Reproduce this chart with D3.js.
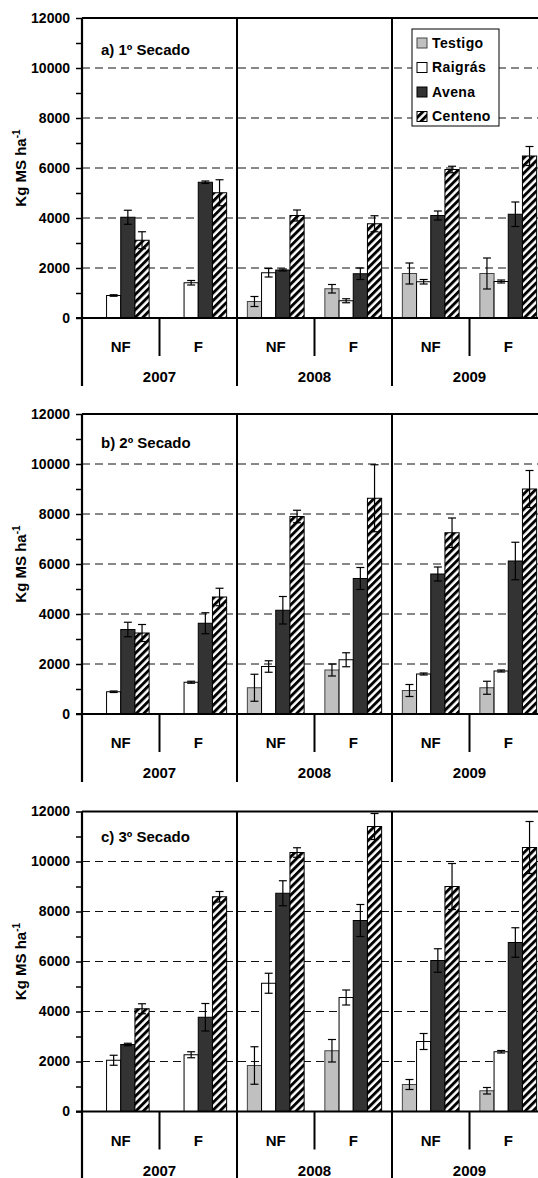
<!DOCTYPE html>
<html>
<head>
<meta charset="utf-8">
<script src="https://cdn.jsdelivr.net/npm/d3@7/dist/d3.min.js"></script>
<style>
  body { margin: 0; background: #fff; }
  text { font-family: "Liberation Sans", Arial, sans-serif; font-weight: bold; fill: #000; }
</style>
</head>
<body>
<div id="chart"></div>
<script>
// Chart data
var years = ["2007", "2008", "2009"];
var treatments = ["NF", "F"];
var series = ["Testigo", "Raigrás", "Avena", "Centeno"];
var panelTitles = ["a) 1º Secado", "b) 2º Secado", "c) 3º Secado"];
var yTicks = [0, 2000, 4000, 6000, 8000, 10000, 12000];
var yMinorTicks = [1000, 3000, 5000, 7000, 9000, 11000];
var gridValues = [2000, 4000, 6000, 8000, 10000];

// values ordered 2007 NF, 2007 F, 2008 NF, 2008 F, 2009 NF, 2009 F
var testigoA = [null, null, 660, 1170, 1780, 1780];
var raigrasA = [900, 1410, 1810, 690, 1450, 1460];
var avenaA = [4030, 5430, 1920, 1770, 4100, 4150];
var centenoA = [3110, 5010, 4100, 3770, 5940, 6480];
var testigoErrA = [null, null, 200, 170, 420, 620];
var raigrasErrA = [30, 90, 170, 80, 90, 60];
var avenaErrA = [280, 50, 40, 230, 180, 490];
var centenoErrA = [340, 520, 220, 320, 130, 380];

var testigoB = [null, null, 1050, 1760, 940, 1050];
var raigrasB = [890, 1270, 1900, 2170, 1600, 1720];
var avenaB = [3380, 3630, 4150, 5420, 5600, 6120];
var centenoB = [3240, 4680, 7900, 8630, 7250, 9000];
var testigoErrB = [null, null, 540, 240, 240, 260];
var raigrasErrB = [30, 40, 230, 280, 40, 40];
var avenaErrB = [290, 420, 550, 440, 280, 750];
var centenoErrB = [340, 350, 250, 1340, 590, 740];

var testigoC = [null, null, 1840, 2430, 1080, 830];
var raigrasC = [2050, 2270, 5130, 4560, 2800, 2390];
var avenaC = [2680, 3770, 8730, 7640, 6040, 6760];
var centenoC = [4110, 8590, 10360, 11400, 9000, 10560];
var testigoErrC = [null, null, 750, 450, 200, 130];
var raigrasErrC = [200, 120, 400, 300, 320, 50];
var avenaErrC = [50, 550, 500, 640, 470, 590];
var centenoErrC = [200, 210, 190, 520, 920, 1040];

var panels = [
  { title: panelTitles[0], values: [testigoA, raigrasA, avenaA, centenoA], errs: [testigoErrA, raigrasErrA, avenaErrA, centenoErrA] },
  { title: panelTitles[1], values: [testigoB, raigrasB, avenaB, centenoB], errs: [testigoErrB, raigrasErrB, avenaErrB, centenoErrB] },
  { title: panelTitles[2], values: [testigoC, raigrasC, avenaC, centenoC], errs: [testigoErrC, raigrasErrC, avenaErrC, centenoErrC] }
];

// Layout
var svgWidth = 538;
var svgHeight = 1178;
var plotLeft = 82;
var plotRight = 547;
var panelTops = [18, 414, 811.5];
var panelHeight = 300;
var titleOffsets = [37, 34, 30];

var fills = ["#c0c0c0", "#ffffff", "#333333", "url(#hatch)"];
var strokes = ["#444444", "#000000", "#000000", "#000000"];

var svg = d3.select("#chart")
  .append("svg")
  .attr("width", svgWidth)
  .attr("height", svgHeight);

// Hatch pattern for Centeno
var pattern = svg.append("defs").append("pattern")
  .attr("id", "hatch")
  .attr("patternUnits", "userSpaceOnUse")
  .attr("width", 5.4)
  .attr("height", 5.4)
  .attr("patternTransform", "rotate(45)");
pattern.append("rect").attr("width", 5.4).attr("height", 5.4).attr("fill", "#fff");
pattern.append("rect").attr("width", 2.9).attr("height", 5.4).attr("fill", "#000");

// Scales shared by all panels
var x0 = d3.scaleBand().domain(years).range([plotLeft, plotRight]);
var x1 = d3.scaleBand().domain(treatments).range([0, x0.bandwidth()]);
var x2 = d3.scaleBand().domain(series).range([0, x1.bandwidth()]).paddingOuter(0.73);

panels.forEach(function(panel, p) {
  var top = panelTops[p];
  var zero = top + panelHeight;
  var g = svg.append("g");

  var y = d3.scaleLinear().domain([0, 12000]).range([zero, top]);

  // Dashed grid lines
  g.selectAll(".grid")
    .data(gridValues)
    .enter()
    .append("line")
    .attr("x1", plotLeft)
    .attr("x2", plotRight)
    .attr("y1", d => y(d))
    .attr("y2", d => y(d))
    .attr("stroke", "#111")
    .attr("stroke-width", 1)
    .attr("stroke-dasharray", "8,5");

  // Top border
  g.append("line")
    .attr("x1", plotLeft).attr("x2", plotRight)
    .attr("y1", y(12000)).attr("y2", y(12000))
    .attr("stroke", "#000").attr("stroke-width", 2);

  // Bars
  var rows = [];
  series.forEach(function(s, si) {
    var k = 0;
    years.forEach(function(yr) {
      treatments.forEach(function(t) {
        var v = panel.values[si][k];
        if (v !== null) {
          rows.push({ s: s, si: si, year: yr, t: t, v: v, e: panel.errs[si][k] });
        }
        k++;
      });
    });
  });

  var bx = d => x0(d.year) + x1(d.t) + x2(d.s);

  g.selectAll(".bar")
    .data(rows)
    .enter()
    .append("rect")
    .attr("x", bx)
    .attr("y", d => y(d.v))
    .attr("width", x2.bandwidth())
    .attr("height", d => zero - y(d.v))
    .attr("fill", d => fills[d.si])
    .attr("stroke", d => strokes[d.si])
    .attr("stroke-width", 1);

  // Error bars
  var cx = d => bx(d) + x2.bandwidth() / 2;
  var eb = g.selectAll(".err")
    .data(rows)
    .enter()
    .append("g")
    .attr("stroke", "#000")
    .attr("stroke-width", 1.2);
  eb.append("line")
    .attr("x1", cx).attr("x2", cx)
    .attr("y1", d => y(d.v + d.e)).attr("y2", d => y(d.v - d.e));
  eb.append("line")
    .attr("x1", d => cx(d) - 4).attr("x2", d => cx(d) + 4)
    .attr("y1", d => y(d.v + d.e)).attr("y2", d => y(d.v + d.e));
  eb.append("line")
    .attr("x1", d => cx(d) - 4).attr("x2", d => cx(d) + 4)
    .attr("y1", d => y(d.v - d.e)).attr("y2", d => y(d.v - d.e));

  // Year dividers (from top down through the category labels)
  g.selectAll(".ydiv")
    .data(years.slice(1).concat(["end"]))
    .enter()
    .append("line")
    .attr("x1", (d, i) => plotLeft + (i + 1) * x0.step())
    .attr("x2", (d, i) => plotLeft + (i + 1) * x0.step())
    .attr("y1", top)
    .attr("y2", zero + 68)
    .attr("stroke", "#000")
    .attr("stroke-width", 2);

  // NF / F dividers
  g.selectAll(".tdiv")
    .data(years)
    .enter()
    .append("line")
    .attr("x1", d => x0(d) + x1("F"))
    .attr("x2", d => x0(d) + x1("F"))
    .attr("y1", zero)
    .attr("y2", zero + 38)
    .attr("stroke", "#000")
    .attr("stroke-width", 2);

  // Zero baseline and left axis line
  g.append("line")
    .attr("x1", plotLeft - 6).attr("x2", plotRight)
    .attr("y1", zero).attr("y2", zero)
    .attr("stroke", "#000").attr("stroke-width", 2.2);
  g.append("line")
    .attr("x1", plotLeft).attr("x2", plotLeft)
    .attr("y1", top).attr("y2", zero + 68)
    .attr("stroke", "#000").attr("stroke-width", 2.2);

  // Y axis ticks and labels
  var leftAxis = d3.axisLeft(y).tickValues(yTicks).tickSize(6).tickPadding(6).tickFormat(d3.format("d"));
  var axisG = g.append("g")
    .attr("transform", `translate(${plotLeft}, 0)`)
    .call(leftAxis);
  axisG.select(".domain").remove();
  axisG.selectAll("line").attr("stroke-width", 1.5);
  axisG.selectAll("text").style("font-size", "14px").style("font-family", null).attr("fill", "#000");

  var minorAxis = d3.axisLeft(y).tickValues(yMinorTicks).tickSize(6).tickFormat("");
  var minorG = g.append("g")
    .attr("transform", `translate(${plotLeft}, 0)`)
    .call(minorAxis);
  minorG.select(".domain").remove();
  minorG.selectAll("line").attr("stroke-width", 1.5);

  // Treatment and year labels
  years.forEach(function(yr) {
    treatments.forEach(function(t) {
      g.append("text")
        .attr("x", x0(yr) + x1(t) + x1.bandwidth() / 2)
        .attr("y", zero + 29)
        .attr("dy", "0.35em")
        .attr("text-anchor", "middle")
        .style("font-size", "15px")
        .text(t);
    });
    g.append("text")
      .attr("x", x0(yr) + x0.bandwidth() / 2)
      .attr("y", zero + 59)
      .attr("dy", "0.35em")
      .attr("text-anchor", "middle")
      .style("font-size", "15px")
      .text(yr);
  });

  // Y axis title
  var yt = g.append("text")
    .attr("transform", `translate(26, ${(top + zero) / 2}) rotate(-90)`)
    .attr("text-anchor", "middle")
    .style("font-size", "15px");
  yt.append("tspan").text("Kg MS ha");
  yt.append("tspan").attr("dy", "-6").style("font-size", "10px").text("-1");

  // Panel title
  g.append("text")
    .attr("x", 101)
    .attr("y", top + titleOffsets[p])
    .style("font-size", "15px")
    .text(panel.title);

  // Legend (first panel only)
  if (p === 0) {
    var lg = g.append("g").attr("transform", "translate(412, 29)");
    lg.append("rect")
      .attr("width", 87).attr("height", 97)
      .attr("fill", "#fff").attr("stroke", "#000").attr("stroke-width", 1);
    series.forEach(function(s, i) {
      var ly = 14 + i * 24.5;
      lg.append("rect")
        .attr("x", 5).attr("y", ly - 5)
        .attr("width", 10).attr("height", 10)
        .attr("fill", fills[i])
        .attr("stroke", strokes[i]).attr("stroke-width", 1);
      lg.append("text")
        .attr("x", 20).attr("y", ly)
        .attr("dy", "0.35em")
        .style("font-size", "14px")
        .style("letter-spacing", "0.4px")
        .text(s);
    });
  }
});
</script>
</body>
</html>
